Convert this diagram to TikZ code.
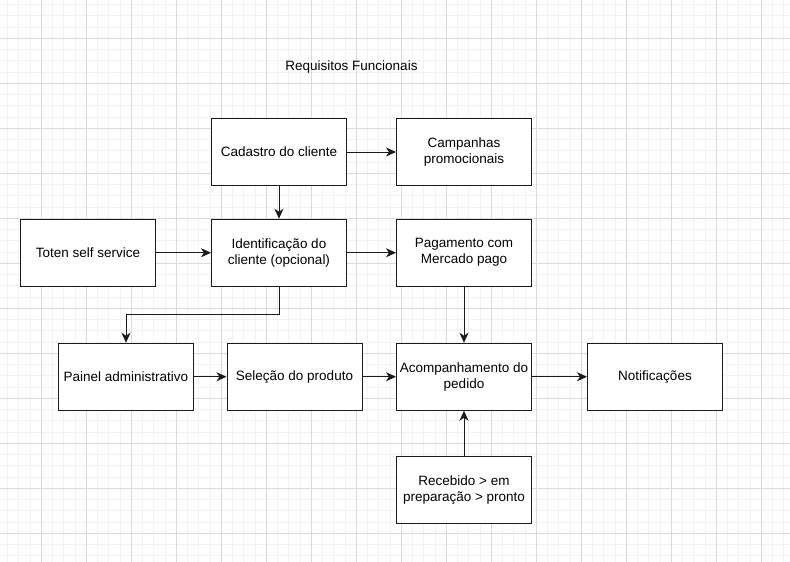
\documentclass[tikz,border=0pt]{standalone}
\usepackage{fontspec}
\setmainfont{Liberation Sans}
\usetikzlibrary{arrows.meta}
\definecolor{gridminor}{HTML}{F2F2F2}
\definecolor{gridmajor}{HTML}{DADADA}
\definecolor{ink}{HTML}{1A1A1A}
\tikzset{
  box/.style={draw=ink, line width=1pt, fill=white, minimum width=135pt, minimum height=67pt,
    inner sep=1pt, align=center, font=\fontsize{13.5}{16}\selectfont, text=black},
  flow/.style={draw=ink, line width=1pt, -{Stealth[length=10pt, width=9pt, inset=3pt]}},
  title/.style={font=\fontsize{13.5}{16}\selectfont, text=black}
}
\begin{document}
\begin{tikzpicture}[x=1pt, y=-1pt]
  \useasboundingbox (0,0) rectangle (790,562);
  \fill[white] (0,0) rectangle (790,562);
  % background grid: fine lines, then heavier lines every fourth step
  \foreach \i in {0,...,70} {
    \draw[gridminor, line width=1pt] ({7.5+11.25*\i},0) -- ({7.5+11.25*\i},562);
  }
  \foreach \i in {0,...,50} {
    \draw[gridminor, line width=1pt] (0,{4.5+11.25*\i}) -- (790,{4.5+11.25*\i});
  }
  \foreach \i in {0,...,17} {
    \draw[gridmajor, line width=1pt] ({41.25+45*\i},0) -- ({41.25+45*\i},562);
  }
  \foreach \i in {0,...,12} {
    \draw[gridmajor, line width=1pt] (0,{38.25+45*\i}) -- (790,{38.25+45*\i});
  }

  \node[title] (title) at (351.5,67) {Requisitos Funcionais};

  \node[box] (cadastro)  at (279,152)    {Cadastro do cliente};
  \node[box] (campanhas) at (464,152)    {Campanhas\\promocionais};
  \node[box] (toten)     at (88,252.75)  {Toten self service};
  \node[box] (ident)     at (279,252.75) {Identificação do\\cliente (opcional)};
  \node[box] (pagamento) at (464,252.75) {Pagamento com\\Mercado pago};
  \node[box] (painel)    at (126,376.75) {Painel administrativo};
  \node[box] (selecao)   at (294.5,376.75) {Seleção do produto};
  \node[box] (acomp)     at (464,376.75) {Acompanhamento do\\pedido};
  \node[box] (notif)     at (655,376.75) {Notificações};
  \node[box] (recebido)  at (464,489.75) {Recebido > em\\preparação > pronto};

  \coordinate (bend1) at (279,314.5);
  \coordinate (bend2) at (126,314.5);

  \draw[flow] (cadastro) -- (campanhas);
  \draw[flow] (cadastro) -- (ident);
  \draw[flow] (toten) -- (ident);
  \draw[flow] (ident) -- (pagamento);
  \draw[flow] (ident.south) -- (bend1) -- (bend2) -- (painel.north);
  \draw[flow] (painel) -- (selecao);
  \draw[flow] (selecao) -- (acomp);
  \draw[flow] (pagamento) -- (acomp);
  \draw[flow] (recebido) -- (acomp);
  \draw[flow] (acomp) -- (notif);
\end{tikzpicture}
\end{document}
